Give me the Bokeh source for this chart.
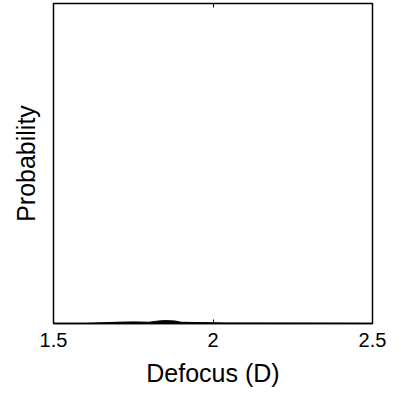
from bokeh.plotting import figure
from bokeh.models import FixedTicker, LinearAxis, Range1d
from bokeh.embed import file_html
from bokeh.resources import INLINE

# data
defocus = [1.60, 1.65, 1.70, 1.75, 1.80, 1.83, 1.85, 1.88, 1.90, 1.95, 2.00, 2.05, 2.20, 2.40, 2.50]
probability = [0.0, 0.002, 0.004, 0.005, 0.004, 0.008, 0.009, 0.008, 0.004, 0.003, 0.002, 0.001, 0.0008, 0.0005, 0.0]
x_ticks = [1.5, 2, 2.5]
x_tick_labels = ["1.5", "2", "2.5"]

FONT = "Liberation Sans"

p = figure(width=395, height=393, output_backend="svg", toolbar_location=None,
           x_range=Range1d(1.5, 2.5), y_range=Range1d(0, 1),
           min_border_left=53, min_border_right=23, min_border_top=3, min_border_bottom=70)
p.background_fill_color = "white"
p.border_fill_color = "white"
p.grid.visible = False
p.outline_line_color = "black"
p.outline_line_width = 1.5

p.varea(x=defocus, y1=0, y2=probability, fill_color="black")
p.line(x=defocus, y=probability, line_color="black", line_width=1)

xa = p.xaxis[0]
xa.ticker = FixedTicker(ticks=x_ticks)
xa.major_label_overrides = {t: l for t, l in zip(x_ticks, x_tick_labels)}
xa.major_label_text_font = FONT
xa.major_label_text_font_size = "20px"
xa.major_label_text_color = "black"
xa.major_tick_in = 4
xa.major_tick_out = 0
xa.minor_tick_in = 0
xa.minor_tick_out = 0
xa.major_label_standoff = 9
xa.axis_label = "Defocus (D)"
xa.axis_label_text_font = FONT
xa.axis_label_text_font_size = "25px"
xa.axis_label_text_font_style = "normal"
xa.axis_label_text_color = "black"
xa.axis_label_standoff = 9
xa.axis_line_width = 1.5

top = LinearAxis(ticker=FixedTicker(ticks=x_ticks),
                 major_label_overrides={t: "" for t in x_ticks},
                 major_label_text_font_size="1px",
                 major_tick_in=4, major_tick_out=0, minor_tick_in=0, minor_tick_out=0,
                 major_label_standoff=0)
p.add_layout(top, "above")

ya = p.yaxis[0]
ya.ticker = FixedTicker(ticks=[])
ya.major_tick_in = 0
ya.major_tick_out = 0
ya.minor_tick_in = 0
ya.minor_tick_out = 0
ya.axis_label = "Probability"
ya.axis_label_text_font = FONT
ya.axis_label_text_font_size = "25px"
ya.axis_label_text_font_style = "normal"
ya.axis_label_text_color = "black"
ya.axis_label_standoff = 14

open("out.html", "w").write(file_html(p, INLINE))
